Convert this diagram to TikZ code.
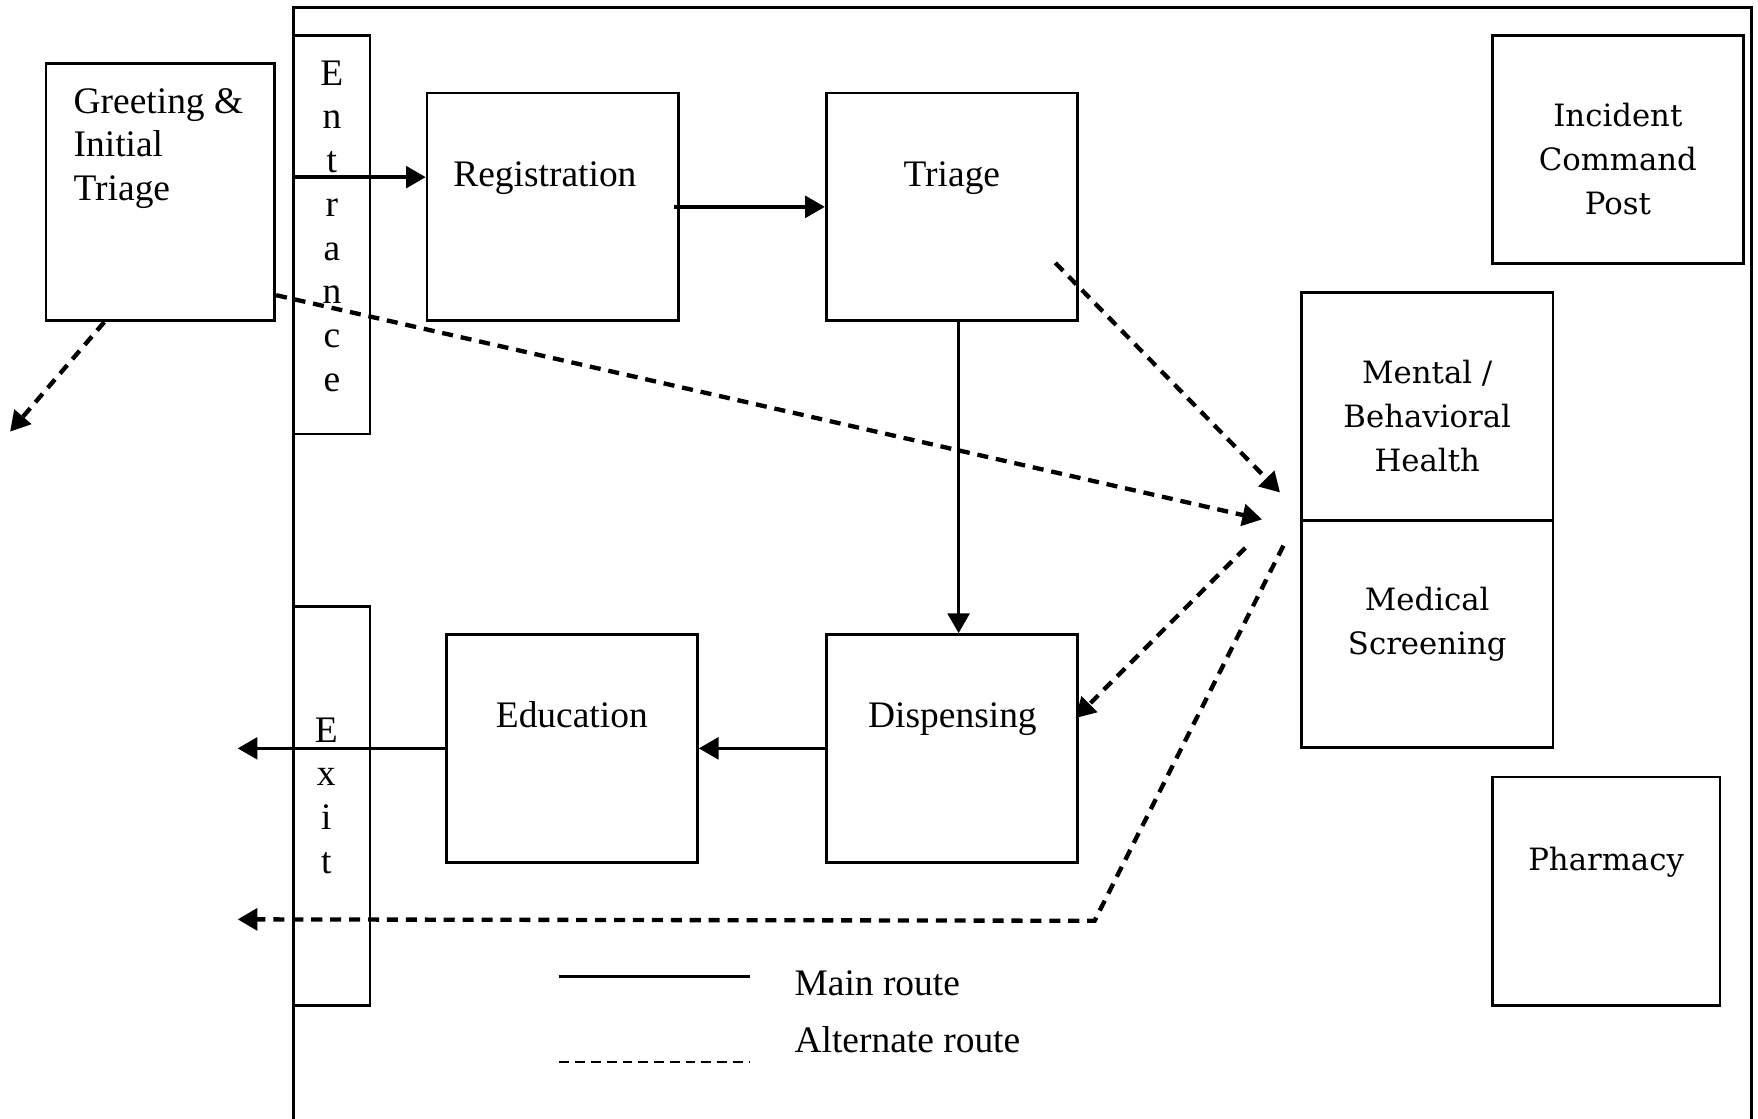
\documentclass[tikz,border=0pt]{standalone}
\usepackage{fontspec}
\setmainfont{Liberation Serif}
\newfontfamily\wideserif{DejaVu Serif}
\usetikzlibrary{calc,positioning,arrows.meta}

\begin{document}
\begin{tikzpicture}[x=0.01cm,y=-0.01cm,font=\fontsize{9.5}{11.1}\selectfont]

\useasboundingbox (0,0) rectangle (1568,998);

\tikzstyle{roombox} = [draw, rectangle, line width=0.7pt, inner sep=0pt, minimum width=2.24cm, minimum height=2.03cm]
\tikzstyle{doorbox} = [draw, rectangle, line width=0.7pt, inner sep=0pt, minimum width=0.68cm]
\tikzstyle{lbl} = [inner sep=0pt, align=center]
\tikzstyle{widelbl} = [inner sep=0pt, align=center, font=\wideserif\fontsize{7.8}{11.1}\selectfont]
\tikzstyle{mainroute} = [line width=0.9pt, -{Triangle[length=5pt,width=5.5pt]}]
\tikzstyle{altroute} = [line width=1.1pt, dash pattern=on 2.8pt off 2pt, -{Triangle[length=5pt,width=5.5pt]}]

% building outline
\draw [line width=0.7pt] (262,998) -- (262,7) -- (1562,7) -- (1562,998);

% outside and entrance
\node (greet) [roombox, minimum width=2.04cm, minimum height=2.29cm] at (143,171.5) {};
\node (greettext) [lbl, align=left, anchor=north west] at (65,78) {Greeting \&\\Initial\\Triage};
\node (entr) [doorbox, minimum height=3.55cm] at (296,209.5) {};
\foreach \ch [count=\i] in {E,n,t,r,a,n,c,e}
  \node (entr\i) [lbl, anchor=base] at (296,76+39*\i-39) {\ch};

% main stations
\node (reg) [roombox] at (493,184.5) {};
\node (regtext) [lbl, anchor=base] at (486,166) {Registration};
\node (tri) [roombox] at (849,184.5) {};
\node (tritext) [lbl, anchor=base] at (849,166) {Triage};
\node (edu) [roombox] at (510,667.5) {};
\node (edutext) [lbl, anchor=base] at (510,649) {Education};
\node (disp) [roombox] at (849,667.5) {};
\node (disptext) [lbl, anchor=base] at (849.5,649) {Dispensing};

% exit
\node (exitdoor) [doorbox, minimum height=3.56cm] at (296,719) {};
\foreach \ch [count=\i] in {E,x,i,t}
  \node (exit\i) [lbl, anchor=base] at (291,662+39*\i-39) {\ch};

% side rooms
\node (icp) [roombox] at (1443,133.5) {};
\node (icptext) [widelbl] at (1443,142) {Incident\\Command\\Post};
\node (mh) [roombox] at (1273,362.5) {};
\node (mhtext) [widelbl] at (1273,371) {Mental /\\Behavioral\\Health};
\node (ms) [roombox] at (1273,565.5) {};
\node (mstext) [widelbl] at (1273,557) {Medical\\Screening};
\node (pharm) [roombox, minimum width=2.03cm, minimum height=2.04cm] at (1432.5,795) {};
\node (pharmtext) [widelbl, anchor=base] at (1432.5,776) {Pharmacy};

% main route
\coordinate (door1) at (262,158);
\coordinate (out1) at (212,667.5);
\draw [mainroute] (door1) -- (reg.west |- door1);
\draw [mainroute] ($(reg.east)+(-5,0)$) -- (tri.west);
\draw [mainroute] ($(tri.south)+(6,0)$) -- ($(disp.north)+(6,0)$);
\draw [mainroute] (disp.west) -- (edu.east);
\draw [mainroute] (edu.west) -- (out1);

% alternate routes
\coordinate (out2) at (212,820);
\coordinate (away) at (9,385);
\coordinate (bend) at ($(disp.south east)+(14,51)$);
\draw [altroute] ($(greet.south east)+(0,-24)$) -- ($(mh.south west)+(-34,-2)$);
\draw [altroute] ($(tri.east)+(-21,50)$) -- ($(mh.south west)+(-18,-26)$);
\draw [altroute] ($(ms.north west)+(-49,26)$) -- ($(disp.east)+(-3,-27)$);
\draw [altroute] ($(ms.north west)+(-15,24)$) -- (bend) -- (out2);
\draw [altroute] ($(greet.south)+(-50,0)$) -- (away);

% legend
\coordinate (mainA) at (499,871);
\coordinate (mainB) at (669,871);
\coordinate (altA) at (499,947);
\coordinate (altB) at (669,947);
\draw [line width=0.6pt] (mainA) -- (mainB);
\draw [line width=0.6pt, dash pattern=on 2.5pt off 1.5pt] (altA) -- (altB);
\node (maintext) [lbl, anchor=base west] at (708,888) {Main route};
\node (alttext) [lbl, anchor=base west] at (708,939) {Alternate route};

\end{tikzpicture}
\end{document}
